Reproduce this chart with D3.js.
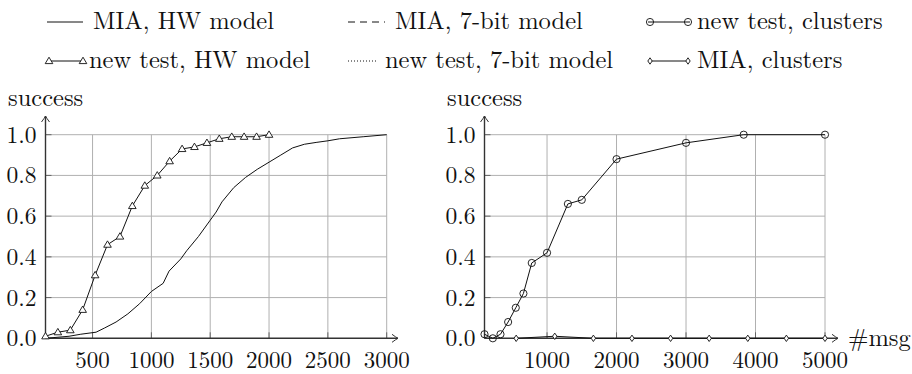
<!DOCTYPE html>
<html>
<head>
<meta charset="utf-8">
<script src="https://cdn.jsdelivr.net/npm/d3@7"></script>
<style>
  body { margin: 0; background: #fff; }
  svg { display: block; }
</style>
</head>
<body>
<svg id="chart" width="912" height="374"></svg>
<script>
// left panel: HW model
const hwTestX = [100, 205, 311, 416, 522, 627, 733, 838, 944, 1050, 1155, 1261, 1366, 1472, 1577, 1683, 1788, 1894, 2000];
const hwTestY = [0.01, 0.03, 0.04, 0.14, 0.31, 0.46, 0.50, 0.65, 0.75, 0.80, 0.87, 0.93, 0.94, 0.96, 0.98, 0.99, 0.99, 0.99, 1.00];
const hwMiaX = [100, 300, 400, 530, 600, 700, 800, 900, 1000, 1100, 1150, 1250, 1300, 1400, 1500, 1550, 1600, 1700, 1800, 1900, 2000, 2100, 2200, 2300, 2400, 2500, 2600, 2800, 3000];
const hwMiaY = [0, 0.01, 0.02, 0.03, 0.05, 0.08, 0.12, 0.17, 0.23, 0.27, 0.33, 0.39, 0.43, 0.50, 0.58, 0.62, 0.67, 0.74, 0.79, 0.83, 0.865, 0.90, 0.935, 0.953, 0.962, 0.97, 0.98, 0.99, 1.00];

// right panel: clusters
const clTestX = [100, 220, 330, 440, 550, 660, 780, 1000, 1300, 1500, 2000, 3000, 3830, 5000];
const clTestY = [0.02, 0.0, 0.02, 0.08, 0.15, 0.22, 0.37, 0.42, 0.66, 0.68, 0.88, 0.96, 1.00, 1.00];
const clMiaX = [556, 1111, 1667, 2222, 2778, 3333, 3889, 4444, 5000];
const clMiaY = [0, 0.01, 0, 0, 0, 0, 0, 0, 0];

const leftTicks = [500, 1000, 1500, 2000, 2500, 3000];
const rightTicks = [1000, 2000, 3000, 4000, 5000];
const yTicks = [0, 0.2, 0.4, 0.6, 0.8, 1.0];

const legendLabels = ["MIA, HW model", "MIA, 7-bit model", "new test, clusters",
                      "new test, HW model", "new test, 7-bit model", "MIA, clusters"];

const svg = d3.select("#chart");
const axisColor = "#333";
const gridColor = "#b0b0b0";
const font = "Latin Modern Roman";

const y = d3.scaleLinear().domain([0, 1]).range([338.3, 134.7]);

// arrow head like TeX "->"
function arrowHead(g, x, yy, dir) {
    let p = dir === "up"
        ? `M${x - 4},${yy + 6} Q${x - 1},${yy + 2} ${x},${yy} Q${x + 1},${yy + 2} ${x + 4},${yy + 6}`
        : `M${x - 6},${yy - 4} Q${x - 2},${yy - 1} ${x},${yy} Q${x - 2},${yy + 1} ${x - 6},${yy + 4}`;
    g.append("path").attr("d", p).attr("fill", "none")
        .attr("stroke", axisColor).attr("stroke-width", 1);
}

function marker(g, type, cx, cy) {
    if (type === "triangle") {
        g.append("path")
            .attr("d", `M${cx},${cy - 3.8} L${cx + 3.8},${cy + 2.6} L${cx - 3.8},${cy + 2.6} Z`)
            .attr("fill", "#fff").attr("stroke", "#111").attr("stroke-width", 0.9);
    } else if (type === "circle") {
        g.append("circle").attr("cx", cx).attr("cy", cy).attr("r", 3.6)
            .attr("fill", "none").attr("stroke", "#111").attr("stroke-width", 0.9);
    } else if (type === "diamond") {
        g.append("path")
            .attr("d", `M${cx},${cy - 3.2} L${cx + 2.2},${cy} L${cx},${cy + 3.2} L${cx - 2.2},${cy} Z`)
            .attr("fill", "#fff").attr("stroke", "#111").attr("stroke-width", 0.9);
    }
}

function label(g, x, yy, size, str, anchor) {
    return g.append("text").attr("x", x).attr("y", yy)
        .attr("font-family", font).attr("font-size", size)
        .attr("fill", "#111").attr("text-anchor", anchor || "start")
        .text(str);
}

function drawPanel(opts) {
    let x = d3.scaleLinear().domain(opts.domain).range(opts.range);
    let g = svg.append("g");
    let x0 = opts.range[0], x1 = opts.range[1];

    // grid
    g.selectAll(".vgrid").data(opts.ticks).enter().append("line")
        .attr("x1", d => x(d)).attr("x2", d => x(d))
        .attr("y1", y(0)).attr("y2", y(1))
        .attr("stroke", gridColor).attr("stroke-width", 1);
    g.selectAll(".hgrid").data(yTicks.slice(1)).enter().append("line")
        .attr("x1", x0).attr("x2", x1)
        .attr("y1", d => y(d)).attr("y2", d => y(d))
        .attr("stroke", gridColor).attr("stroke-width", 1);

    // small inward ticks
    g.selectAll(".ytick").data(yTicks).enter().append("line")
        .attr("x1", x0).attr("x2", x0 + 6)
        .attr("y1", d => y(d)).attr("y2", d => y(d))
        .attr("stroke", "#666").attr("stroke-width", 1);
    g.selectAll(".xtick").data(opts.ticks).enter().append("line")
        .attr("x1", d => x(d)).attr("x2", d => x(d))
        .attr("y1", y(0)).attr("y2", y(0) - 6)
        .attr("stroke", "#666").attr("stroke-width", 1);

    // axes
    g.append("line").attr("x1", x0).attr("x2", x0)
        .attr("y1", y(0)).attr("y2", 116)
        .attr("stroke", axisColor).attr("stroke-width", 1.4);
    arrowHead(g, x0, 116, "up");
    g.append("line").attr("x1", x0).attr("x2", opts.arrowX)
        .attr("y1", y(0)).attr("y2", y(0))
        .attr("stroke", axisColor).attr("stroke-width", 1.4);
    arrowHead(g, opts.arrowX, y(0), "right");

    // tick labels
    yTicks.forEach(d => label(g, x0 - 9, y(d) + 8, 23.5, d.toFixed(1), "end"));
    opts.ticks.forEach(d => label(g, x(d), 368, 23, d, "middle"));

    label(g, opts.labelX, 106, 24.5, "success");

    // series
    opts.series.forEach(s => {
        let pts = s.xs.map((v, i) => [x(v), y(s.ys[i])]);
        g.append("path").attr("d", d3.line()(pts))
            .attr("fill", "none").attr("stroke", "#111").attr("stroke-width", 1);
        pts.forEach(p => marker(g, s.marker, p[0], p[1]));
    });
    return g;
}

drawPanel({
    domain: [100, 3000], range: [45.5, 386.7], arrowX: 398,
    ticks: leftTicks, labelX: 8,
    series: [
        { xs: hwMiaX, ys: hwMiaY, marker: null },
        { xs: hwTestX, ys: hwTestY, marker: "triangle" }
    ]
});

let right = drawPanel({
    domain: [100, 5000], range: [484.5, 825], arrowX: 838,
    ticks: rightTicks, labelX: 447,
    series: [
        { xs: clMiaX, ys: clMiaY, marker: "diamond" },
        { xs: clTestX, ys: clTestY, marker: "circle" }
    ]
});
label(right, 848, 346, 24.5, "#msg");

// legend
const leg = svg.append("g");
const legItems = [
    { sx: 47, ex: 83, ty: 22, tx: 93, dash: null, marker: null },
    { sx: 348, ex: 385, ty: 22, tx: 395, dash: "7,5", marker: null },
    { sx: 648, ex: 690, ty: 22, tx: 697, dash: null, marker: "circle" },
    { sx: 47, ex: 85, ty: 61, tx: 89, dash: null, marker: "triangle" },
    { sx: 348, ex: 377, ty: 61, tx: 385, dash: "1,2", marker: null },
    { sx: 648, ex: 690, ty: 61, tx: 697, dash: null, marker: "diamond" }
];
legItems.forEach((it, i) => {
    leg.append("line").attr("x1", it.sx).attr("x2", it.ex)
        .attr("y1", it.ty).attr("y2", it.ty)
        .attr("stroke", "#111").attr("stroke-width", 1)
        .attr("stroke-dasharray", it.dash);
    if (it.marker) {
        marker(leg, it.marker, it.sx + 2, it.ty);
        marker(leg, it.marker, it.ex - 2, it.ty);
    }
    label(leg, it.tx, it.ty + 7, 24.5, legendLabels[i]);
});
</script>
</body>
</html>
